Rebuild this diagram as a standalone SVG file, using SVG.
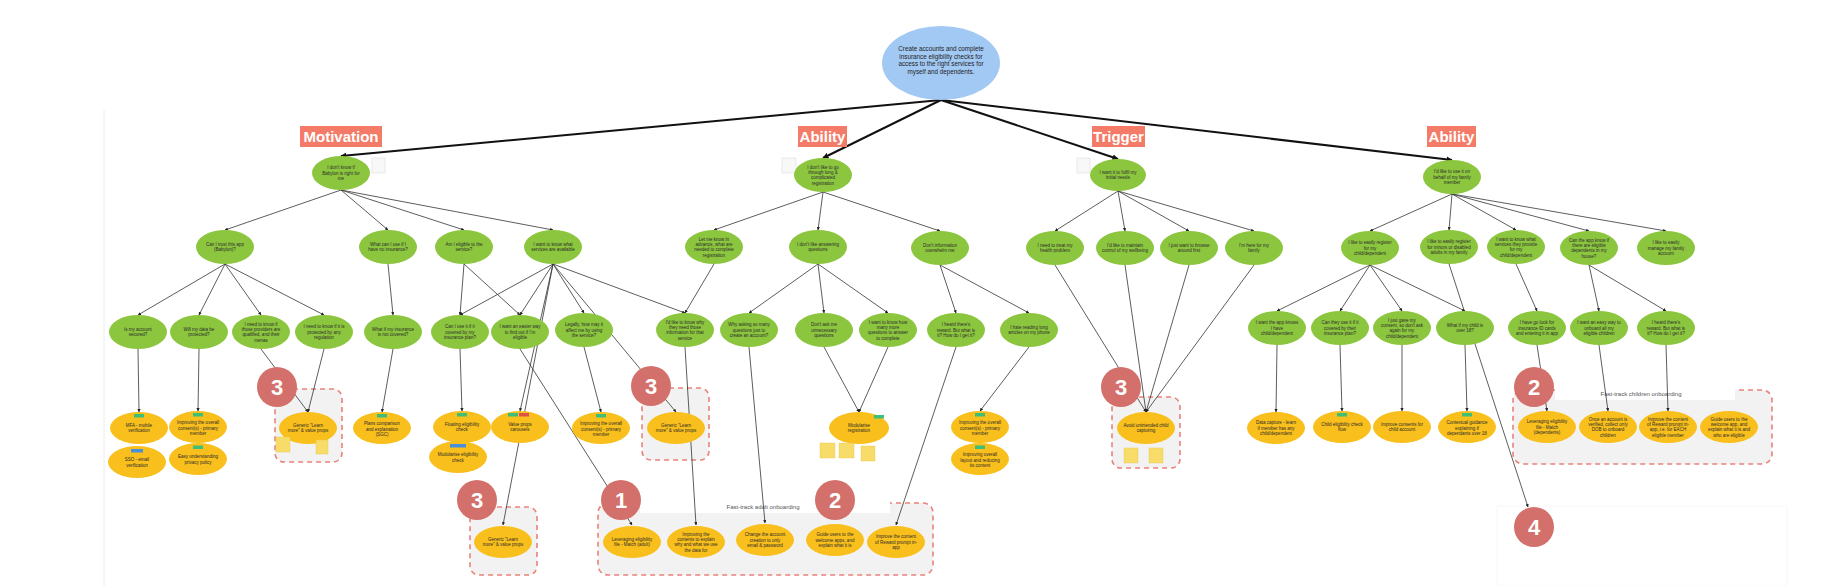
<svg xmlns="http://www.w3.org/2000/svg" width="1846" height="586" viewBox="0 0 1846 586">
<defs>
<style>
.g{fill:#8cc63f}
.y{fill:#f9bf1c}
.t{font-family:"Liberation Sans",Arial,sans-serif;font-size:4.5px;fill:#2b2b2b;text-anchor:middle}
.rt{font-family:"Liberation Sans",Arial,sans-serif;font-size:6.3px;fill:#222;text-anchor:middle}
.lab{font-family:"Liberation Sans",Arial,sans-serif;font-size:15px;font-weight:bold;fill:#fff;text-anchor:middle}
.labbg{fill:#f47b67}
.c{stroke:#333;stroke-width:0.8;fill:none;marker-end:url(#ah)}
.cr{stroke:#111;stroke-width:2;fill:none;marker-end:url(#ahr)}
.box{fill:#f2f2f2;stroke:#e8837a;stroke-width:1.6;stroke-dasharray:5 4}
.badge{fill:#d4706b}
.bt{font-family:"Liberation Sans",Arial,sans-serif;font-size:22px;font-weight:bold;fill:#fff;text-anchor:middle}
.tg{fill:#3dbf7a}
.tb{fill:#4a8fd9}
.tr{fill:#e0524c}
.st{fill:#f8dc6a;stroke:#e8c84a;stroke-width:0.4}
.note{fill:#f8f8f8;stroke:#d8d8d8;stroke-width:0.5}
.ft{font-family:"Liberation Sans",Arial,sans-serif;font-size:6px;fill:#555;text-anchor:middle}
</style>
<marker id="ah" viewBox="0 0 6 6" refX="5.5" refY="3" markerWidth="4" markerHeight="4" orient="auto"><path d="M0,0L6,3L0,6z" fill="#222"/></marker>
<marker id="ahr" viewBox="0 0 6 6" refX="5.5" refY="3" markerWidth="3" markerHeight="3" orient="auto"><path d="M0,0L6,3L0,6z" fill="#111"/></marker>
</defs>
<rect width="1846" height="586" fill="#fff"/>
<line x1="104" y1="110" x2="104" y2="586" stroke="#ececec" stroke-width="1"/>

<!-- group boxes -->
<g id="box3a"><rect class="box" x="275" y="389" width="67" height="73" rx="9"/></g>
<g id="box3b"><rect class="box" x="642" y="388" width="67" height="72" rx="9"/></g>
<g id="box3c"><rect class="box" x="1112" y="397" width="68" height="71" rx="9"/></g>
<g id="box3d"><rect class="box" x="470" y="507" width="67" height="68" rx="9"/></g>
<g id="boxAdult"><rect class="box" x="598" y="503" width="335" height="72" rx="10"/><rect x="640" y="502" width="250" height="11" fill="#fff"/><text class="ft" x="763" y="509">Fast-track adult onboarding</text></g>
<g id="boxChildren"><rect class="box" x="1513" y="390" width="259" height="74" rx="10"/><rect x="1555" y="389" width="180" height="11" fill="#fff"/><text class="ft" x="1641" y="396">Fast-track children onboarding</text></g>
<rect x="1497" y="506" width="290" height="80" fill="#fff" stroke="#f6f6f6" stroke-width="0.8"/>

<!-- connectors -->
<g id="connectors">
<path class="cr" d="M941,100L341,156"/>
<path class="cr" d="M941,100L823,158"/>
<path class="cr" d="M941,100L1118,159"/>
<path class="cr" d="M941,100L1452,160"/>
<path class="c" d="M341,190L225,230"/>
<path class="c" d="M341,190L388,230"/>
<path class="c" d="M341,190L464,230"/>
<path class="c" d="M341,190L553,230"/>
<path class="c" d="M823,192L714,230"/>
<path class="c" d="M823,192L818,230"/>
<path class="c" d="M823,192L940,231"/>
<path class="c" d="M1118,191L1055,231"/>
<path class="c" d="M1118,191L1125,231"/>
<path class="c" d="M1118,191L1189,231"/>
<path class="c" d="M1118,191L1254,231"/>
<path class="c" d="M1452,194L1370,231"/>
<path class="c" d="M1452,194L1449,230"/>
<path class="c" d="M1452,194L1516,230"/>
<path class="c" d="M1452,194L1589,231"/>
<path class="c" d="M1452,194L1666,231"/>
<path class="c" d="M225,264L138,315"/>
<path class="c" d="M225,264L199,315"/>
<path class="c" d="M225,264L261,315"/>
<path class="c" d="M225,264L324,315"/>
<path class="c" d="M388,264L393,315"/>
<path class="c" d="M464,264L460,315"/>
<path class="c" d="M464,264L520,315"/>
<path class="c" d="M553,264L460,315"/>
<path class="c" d="M553,264L520,315"/>
<path class="c" d="M553,264L584,313"/>
<path class="c" d="M553,264L685,313"/>
<path class="c" d="M553,264L520,411"/>
<path class="c" d="M553,264L676,412"/>
<path class="c" d="M553,264L503,525"/>
<path class="c" d="M714,264L685,313"/>
<path class="c" d="M818,264L749,313"/>
<path class="c" d="M818,264L824,313"/>
<path class="c" d="M818,264L888,313"/>
<path class="c" d="M940,265L956,313"/>
<path class="c" d="M940,265L1029,313"/>
<path class="c" d="M1055,265L1146,412"/>
<path class="c" d="M1125,265L1146,412"/>
<path class="c" d="M1189,265L1146,412"/>
<path class="c" d="M1254,265L1146,412"/>
<path class="c" d="M1370,265L1277,311"/>
<path class="c" d="M1370,265L1340,311"/>
<path class="c" d="M1370,265L1402,311"/>
<path class="c" d="M1370,265L1465,311"/>
<path class="c" d="M1449,264L1528,507"/>
<path class="c" d="M1516,264L1537,311"/>
<path class="c" d="M1589,265L1599,311"/>
<path class="c" d="M1589,265L1666,311"/>
<path class="c" d="M138,349L139,412"/>
<path class="c" d="M199,349L198,411"/>
<path class="c" d="M261,349L308,412"/>
<path class="c" d="M324,349L308,412"/>
<path class="c" d="M393,349L382,412"/>
<path class="c" d="M460,349L462,411"/>
<path class="c" d="M520,349L632,525"/>
<path class="c" d="M584,347L601,412"/>
<path class="c" d="M685,347L696,525"/>
<path class="c" d="M749,347L765,523"/>
<path class="c" d="M824,347L859,412"/>
<path class="c" d="M888,347L859,412"/>
<path class="c" d="M956,347L896,525"/>
<path class="c" d="M1029,347L980,411"/>
<path class="c" d="M1277,345L1276,412"/>
<path class="c" d="M1340,345L1342,411"/>
<path class="c" d="M1402,345L1402,411"/>
<path class="c" d="M1465,345L1467,411"/>
<path class="c" d="M1537,345L1547,411"/>
<path class="c" d="M1599,345L1608,411"/>
<path class="c" d="M1666,345L1668,411"/>
</g>

<!-- root -->
<g id="root"><ellipse cx="941" cy="63" rx="59" ry="37" fill="#a2c9f4"/>
<text class="rt"><tspan x="941" y="51">Create accounts and complete</tspan><tspan x="941" y="58.6">insurance eligibility checks for</tspan><tspan x="941" y="66.2">access to the right services for</tspan><tspan x="941" y="73.8">myself and dependents.</tspan></text></g>

<!-- labels -->
<g id="lab-motivation"><rect class="labbg" x="300" y="126" width="82" height="21"/><text class="lab" x="341" y="142">Motivation</text></g>
<g id="lab-ability1"><rect class="labbg" x="798" y="126" width="49" height="21"/><text class="lab" x="822.5" y="142">Ability</text></g>
<g id="lab-trigger"><rect class="labbg" x="1092" y="126" width="53" height="21"/><text class="lab" x="1118.5" y="142">Trigger</text></g>
<g id="lab-ability2"><rect class="labbg" x="1427" y="126" width="49" height="21"/><text class="lab" x="1451.5" y="142">Ability</text></g>

<!-- notes -->
<rect class="note" x="372" y="158" width="13" height="15"/>
<rect class="note" x="782" y="158" width="14" height="15"/>
<rect class="note" x="1077" y="158" width="13" height="15"/>

<!-- L1 -->
<g id="n-mot"><ellipse class="g" cx="341" cy="173" rx="29" ry="17"/><text class="t"><tspan x="341" y="169.2">I don't know if</tspan><tspan x="341" y="174.6">Babylon is right for</tspan><tspan x="341" y="180">me</tspan></text></g>
<g id="n-abi1"><ellipse class="g" cx="823" cy="175" rx="29" ry="17"/><text class="t"><tspan x="823" y="168.5">I don't like to go</tspan><tspan x="823" y="173.9">through long &amp;</tspan><tspan x="823" y="179.3">complicated</tspan><tspan x="823" y="184.7">registration</tspan></text></g>
<g id="n-trig"><ellipse class="g" cx="1118" cy="175" rx="28" ry="16"/><text class="t"><tspan x="1118" y="173.9">I want it to fulfil my</tspan><tspan x="1118" y="179.3">initial needs</tspan></text></g>
<g id="n-abi2"><ellipse class="g" cx="1452" cy="177" rx="29" ry="17"/><text class="t"><tspan x="1452" y="173.2">I'd like to use it on</tspan><tspan x="1452" y="178.6">behalf of my family</tspan><tspan x="1452" y="184">member</tspan></text></g>

<!-- L2 -->
<g id="n-trust"><ellipse class="g" cx="225" cy="247" rx="29" ry="17"/><text class="t"><tspan x="225" y="245.9">Can I trust this app</tspan><tspan x="225" y="251.3">(Babylon)?</tspan></text></g>
<g id="n-noins"><ellipse class="g" cx="388" cy="247" rx="29" ry="17"/><text class="t"><tspan x="388" y="245.9">What can I use if I</tspan><tspan x="388" y="251.3">have no insurance?</tspan></text></g>
<g id="n-elig"><ellipse class="g" cx="464" cy="247" rx="29" ry="17"/><text class="t"><tspan x="464" y="245.9">Am I eligible to the</tspan><tspan x="464" y="251.3">service?</tspan></text></g>
<g id="n-services"><ellipse class="g" cx="553" cy="247" rx="29" ry="17"/><text class="t"><tspan x="553" y="245.9">I want to know what</tspan><tspan x="553" y="251.3">services are available</tspan></text></g>
<g id="n-advance"><ellipse class="g" cx="714" cy="247" rx="29" ry="17"/><text class="t"><tspan x="714" y="240.5">Let me know in</tspan><tspan x="714" y="245.9">advance, what are</tspan><tspan x="714" y="251.3">needed to complete</tspan><tspan x="714" y="256.7">registration</tspan></text></g>
<g id="n-answer"><ellipse class="g" cx="818" cy="247" rx="29" ry="17"/><text class="t"><tspan x="818" y="245.9">I don't like answering</tspan><tspan x="818" y="251.3">questions</tspan></text></g>
<g id="n-overwhelm"><ellipse class="g" cx="940" cy="248" rx="29" ry="17"/><text class="t"><tspan x="940" y="246.9">Don't information</tspan><tspan x="940" y="252.3">overwhelm me</tspan></text></g>
<g id="n-treat"><ellipse class="g" cx="1055" cy="248" rx="29" ry="17"/><text class="t"><tspan x="1055" y="246.9">I need to treat my</tspan><tspan x="1055" y="252.3">health problem</tspan></text></g>
<g id="n-wellbeing"><ellipse class="g" cx="1125" cy="248" rx="29" ry="17"/><text class="t"><tspan x="1125" y="246.9">I'd like to maintain</tspan><tspan x="1125" y="252.3">control of my wellbeing</tspan></text></g>
<g id="n-browse"><ellipse class="g" cx="1189" cy="248" rx="29" ry="17"/><text class="t"><tspan x="1189" y="246.9">I just want to browse</tspan><tspan x="1189" y="252.3">around first</tspan></text></g>
<g id="n-family"><ellipse class="g" cx="1254" cy="248" rx="29" ry="17"/><text class="t"><tspan x="1254" y="246.9">I'm here for my</tspan><tspan x="1254" y="252.3">family</tspan></text></g>
<g id="n-regchild"><ellipse class="g" cx="1370" cy="248" rx="29" ry="17"/><text class="t"><tspan x="1370" y="244.2">I like to easily register</tspan><tspan x="1370" y="249.6">for my</tspan><tspan x="1370" y="255">child/dependent</tspan></text></g>
<g id="n-regminor"><ellipse class="g" cx="1449" cy="247" rx="29" ry="17"/><text class="t"><tspan x="1449" y="243.2">I like to easily register</tspan><tspan x="1449" y="248.6">for minors or disabled</tspan><tspan x="1449" y="254">adults in my family</tspan></text></g>
<g id="n-provide"><ellipse class="g" cx="1516" cy="247" rx="29" ry="17"/><text class="t"><tspan x="1516" y="240.5">I want to know what</tspan><tspan x="1516" y="245.9">services they provide</tspan><tspan x="1516" y="251.3">for my</tspan><tspan x="1516" y="256.7">child/dependent</tspan></text></g>
<g id="n-appknow"><ellipse class="g" cx="1589" cy="248" rx="29" ry="17"/><text class="t"><tspan x="1589" y="241.5">Can the app know if</tspan><tspan x="1589" y="246.9">there are eligible</tspan><tspan x="1589" y="252.3">dependents in my</tspan><tspan x="1589" y="257.7">house?</tspan></text></g>
<g id="n-manage"><ellipse class="g" cx="1666" cy="248" rx="29" ry="17"/><text class="t"><tspan x="1666" y="244.2">I like to easily</tspan><tspan x="1666" y="249.6">manage my family</tspan><tspan x="1666" y="255">account</tspan></text></g>

<!-- L3 -->
<g id="n-secured"><ellipse class="g" cx="138" cy="332" rx="29" ry="17"/><text class="t"><tspan x="138" y="330.9">Is my account</tspan><tspan x="138" y="336.3">secured?</tspan></text></g>
<g id="n-protected"><ellipse class="g" cx="199" cy="332" rx="29" ry="17"/><text class="t"><tspan x="199" y="330.9">Will my data be</tspan><tspan x="199" y="336.3">protected?</tspan></text></g>
<g id="n-providers"><ellipse class="g" cx="261" cy="332" rx="29" ry="17"/><text class="t"><tspan x="261" y="325.5">I need to know if</tspan><tspan x="261" y="330.9">those providers are</tspan><tspan x="261" y="336.3">qualified, and their</tspan><tspan x="261" y="341.7">menas</tspan></text></g>
<g id="n-regulation"><ellipse class="g" cx="324" cy="332" rx="29" ry="17"/><text class="t"><tspan x="324" y="328.2">I need to know if it is</tspan><tspan x="324" y="333.6">protected by any</tspan><tspan x="324" y="339">regulation</tspan></text></g>
<g id="n-notcovered"><ellipse class="g" cx="393" cy="332" rx="29" ry="17"/><text class="t"><tspan x="393" y="330.9">What if my insurance</tspan><tspan x="393" y="336.3">is not covered?</tspan></text></g>
<g id="n-covered"><ellipse class="g" cx="460" cy="332" rx="29" ry="17"/><text class="t"><tspan x="460" y="328.2">Can I use it if it</tspan><tspan x="460" y="333.6">covered by my</tspan><tspan x="460" y="339">insurance plan?</tspan></text></g>
<g id="n-easier"><ellipse class="g" cx="520" cy="332" rx="29" ry="17"/><text class="t"><tspan x="520" y="328.2">I want an easier way</tspan><tspan x="520" y="333.6">to find out if I'm</tspan><tspan x="520" y="339">eligible</tspan></text></g>
<g id="n-legally"><ellipse class="g" cx="584" cy="330" rx="29" ry="17"/><text class="t"><tspan x="584" y="326.2">Legally, how may it</tspan><tspan x="584" y="331.6">affect me by using</tspan><tspan x="584" y="337">the service?</tspan></text></g>
<g id="n-why"><ellipse class="g" cx="685" cy="330" rx="29" ry="17"/><text class="t"><tspan x="685" y="323.5">I'd like to know why</tspan><tspan x="685" y="328.9">they need those</tspan><tspan x="685" y="334.3">information for that</tspan><tspan x="685" y="339.7">service</tspan></text></g>
<g id="n-somany"><ellipse class="g" cx="749" cy="330" rx="29" ry="17"/><text class="t"><tspan x="749" y="326.2">Why asking so many</tspan><tspan x="749" y="331.6">questions just to</tspan><tspan x="749" y="337">create an account?</tspan></text></g>
<g id="n-unnecessary"><ellipse class="g" cx="824" cy="330" rx="29" ry="17"/><text class="t"><tspan x="824" y="326.2">Don't ask me</tspan><tspan x="824" y="331.6">unnecessary</tspan><tspan x="824" y="337">questions</tspan></text></g>
<g id="n-howmany"><ellipse class="g" cx="888" cy="330" rx="29" ry="17"/><text class="t"><tspan x="888" y="323.5">I want to know how</tspan><tspan x="888" y="328.9">many more</tspan><tspan x="888" y="334.3">questions to answer</tspan><tspan x="888" y="339.7">to complete</tspan></text></g>
<g id="n-reward1"><ellipse class="g" cx="956" cy="330" rx="29" ry="17"/><text class="t"><tspan x="956" y="326.2">I heard there's</tspan><tspan x="956" y="331.6">reward. But what is</tspan><tspan x="956" y="337">it? How do I get it?</tspan></text></g>
<g id="n-reading"><ellipse class="g" cx="1029" cy="330" rx="29" ry="17"/><text class="t"><tspan x="1029" y="328.9">I hate reading long</tspan><tspan x="1029" y="334.3">articles on my phone</tspan></text></g>
<g id="n-appknows"><ellipse class="g" cx="1277" cy="328" rx="29" ry="17"/><text class="t"><tspan x="1277" y="324.2">I want the app knows</tspan><tspan x="1277" y="329.6">I have</tspan><tspan x="1277" y="335">child/dependent</tspan></text></g>
<g id="n-theirplan"><ellipse class="g" cx="1340" cy="328" rx="29" ry="17"/><text class="t"><tspan x="1340" y="324.2">Can they use it if it</tspan><tspan x="1340" y="329.6">covered by their</tspan><tspan x="1340" y="335">insurance plan?</tspan></text></g>
<g id="n-consent"><ellipse class="g" cx="1402" cy="328" rx="29" ry="17"/><text class="t"><tspan x="1402" y="321.5">I just gave my</tspan><tspan x="1402" y="326.9">consent, so don't ask</tspan><tspan x="1402" y="332.3">again for my</tspan><tspan x="1402" y="337.7">child/dependent</tspan></text></g>
<g id="n-over18"><ellipse class="g" cx="1465" cy="328" rx="29" ry="17"/><text class="t"><tspan x="1465" y="326.9">What if my child is</tspan><tspan x="1465" y="332.3">over 18?</tspan></text></g>
<g id="n-idcards"><ellipse class="g" cx="1537" cy="328" rx="29" ry="17"/><text class="t"><tspan x="1537" y="324.2">I have go look for</tspan><tspan x="1537" y="329.6">insurance ID cards</tspan><tspan x="1537" y="335">and entering it in app</tspan></text></g>
<g id="n-onboardall"><ellipse class="g" cx="1599" cy="328" rx="29" ry="17"/><text class="t"><tspan x="1599" y="324.2">I want an easy way to</tspan><tspan x="1599" y="329.6">onboard all my</tspan><tspan x="1599" y="335">eligible children</tspan></text></g>
<g id="n-reward2"><ellipse class="g" cx="1666" cy="328" rx="29" ry="17"/><text class="t"><tspan x="1666" y="324.2">I heard there's</tspan><tspan x="1666" y="329.6">reward. But what is</tspan><tspan x="1666" y="335">it? How do I get it?</tspan></text></g>

<!-- L4 -->
<g id="s-mfa"><ellipse class="y" cx="139" cy="428" rx="29" ry="16"/><rect class="tg" x="134" y="414" width="10" height="3.5"/><text class="t"><tspan x="139" y="426.9">MFA - mobile</tspan><tspan x="139" y="432.3">verification</tspan></text></g>
<g id="s-sso"><ellipse class="y" cx="137" cy="462" rx="29" ry="16"/><rect class="tb" x="131" y="449" width="12" height="3.5"/><text class="t"><tspan x="137" y="461.4">SSO - email</tspan><tspan x="137" y="466.8">verification</tspan></text></g>
<g id="s-consent1"><ellipse class="y" cx="198" cy="427" rx="29" ry="16"/><rect class="tg" x="193" y="413" width="10" height="3.5"/><text class="t"><tspan x="198" y="424.2">Improving the overall</tspan><tspan x="198" y="429.6">consent(s) - primary</tspan><tspan x="198" y="435">member</tspan></text></g>
<g id="s-privacy"><ellipse class="y" cx="198" cy="459" rx="29" ry="16"/><rect class="tg" x="193" y="445.5" width="10" height="3.5"/><text class="t"><tspan x="198" y="458.4">Easy understanding</tspan><tspan x="198" y="463.8">privacy policy</tspan></text></g>
<g id="s-learn1"><ellipse class="y" cx="308" cy="428" rx="29" ry="16"/><text class="t"><tspan x="308" y="426.9">Generic "Learn</tspan><tspan x="308" y="432.3">more" &amp; value props</tspan></text><rect class="st" x="276" y="437" width="14" height="15"/><rect class="st" x="316" y="440" width="12" height="14"/></g>
<g id="s-plans"><ellipse class="y" cx="382" cy="428" rx="29" ry="16"/><rect class="tg" x="377" y="414" width="10" height="3.5"/><text class="t"><tspan x="382" y="425.2">Plans comparison</tspan><tspan x="382" y="430.6">and explanation</tspan><tspan x="382" y="436">(SGC)</tspan></text></g>
<g id="s-floating"><ellipse class="y" cx="462" cy="427" rx="29" ry="16"/><rect class="tg" x="457" y="413" width="10" height="3.5"/><text class="t"><tspan x="462" y="425.9">Floating eligibility</tspan><tspan x="462" y="431.3">check</tspan></text></g>
<g id="s-modelig"><ellipse class="y" cx="458" cy="457" rx="29" ry="16"/><rect class="tb" x="450" y="444" width="16" height="3.5"/><text class="t"><tspan x="458" y="456.4">Modularise eligibility</tspan><tspan x="458" y="461.8">check</tspan></text></g>
<g id="s-carousel"><ellipse class="y" cx="520" cy="427" rx="29" ry="16"/><rect class="tg" x="508" y="413" width="10" height="3.5"/><rect class="tr" x="519" y="413" width="10" height="3.5"/><text class="t"><tspan x="520" y="425.9">Value props</tspan><tspan x="520" y="431.3">carousels</tspan></text></g>
<g id="s-consent2"><ellipse class="y" cx="601" cy="428" rx="29" ry="16"/><rect class="tg" x="596" y="414" width="10" height="3.5"/><text class="t"><tspan x="601" y="425.2">Improving the overall</tspan><tspan x="601" y="430.6">consent(s) - primary</tspan><tspan x="601" y="436">member</tspan></text></g>
<g id="s-learn2"><ellipse class="y" cx="676" cy="428" rx="29" ry="16"/><text class="t"><tspan x="676" y="426.9">Generic "Learn</tspan><tspan x="676" y="432.3">more" &amp; value props</tspan></text></g>
<g id="s-modreg"><ellipse class="y" cx="859" cy="428" rx="30" ry="16"/><rect class="tg" x="874" y="415" width="10" height="3.5"/><text class="t"><tspan x="859" y="426.9">Modularise</tspan><tspan x="859" y="432.3">registration</tspan></text><rect class="st" x="820" y="443" width="15" height="15"/><rect class="st" x="839" y="443" width="15" height="15"/><rect class="st" x="861" y="446" width="14" height="15"/></g>
<g id="s-consent3"><ellipse class="y" cx="980" cy="427" rx="29" ry="16"/><rect class="tg" x="975" y="413" width="10" height="3.5"/><text class="t"><tspan x="980" y="424.2">Improving the overall</tspan><tspan x="980" y="429.6">consent(s) - primary</tspan><tspan x="980" y="435">member</tspan></text></g>
<g id="s-layout"><ellipse class="y" cx="980" cy="459" rx="29" ry="16"/><rect class="tg" x="975" y="445.5" width="10" height="3.5"/><text class="t"><tspan x="980" y="456.2">Improving overall</tspan><tspan x="980" y="461.6">layout and reducing</tspan><tspan x="980" y="467">its content</tspan></text></g>
<g id="s-avoid"><ellipse class="y" cx="1146" cy="428" rx="29" ry="16"/><text class="t"><tspan x="1146" y="426.9">Avoid unintended child</tspan><tspan x="1146" y="432.3">capturing</tspan></text><rect class="st" x="1124" y="448" width="14" height="15"/><rect class="st" x="1149" y="448" width="14" height="15"/></g>
<g id="s-datacap"><ellipse class="y" cx="1276" cy="428" rx="29" ry="16"/><text class="t"><tspan x="1276" y="424.2">Data capture - learn</tspan><tspan x="1276" y="429.6">if member has any</tspan><tspan x="1276" y="435">child/dependent</tspan></text></g>
<g id="s-childelig"><ellipse class="y" cx="1342" cy="427" rx="29" ry="16"/><rect class="tg" x="1337" y="413" width="10" height="3.5"/><text class="t"><tspan x="1342" y="425.9">Child eligibility check</tspan><tspan x="1342" y="431.3">flow</tspan></text></g>
<g id="s-childcons"><ellipse class="y" cx="1402" cy="427" rx="29" ry="16"/><text class="t"><tspan x="1402" y="425.9">Improve consents for</tspan><tspan x="1402" y="431.3">child account</tspan></text></g>
<g id="s-context"><ellipse class="y" cx="1467" cy="427" rx="29" ry="16"/><rect class="tg" x="1462" y="413" width="10" height="3.5"/><text class="t"><tspan x="1467" y="424.2">Contextual guidance</tspan><tspan x="1467" y="429.6">explaining if</tspan><tspan x="1467" y="435">dependants over 18</tspan></text></g>
<g id="s-levdep"><ellipse class="y" cx="1547" cy="427" rx="29" ry="16"/><text class="t"><tspan x="1547" y="423.2">Leveraging eligibility</tspan><tspan x="1547" y="428.6">file - Match</tspan><tspan x="1547" y="434">(dependents)</tspan></text></g>
<g id="s-dob"><ellipse class="y" cx="1608" cy="427" rx="29" ry="16"/><text class="t"><tspan x="1608" y="420.5">Once an account is</tspan><tspan x="1608" y="425.9">verified, collect only</tspan><tspan x="1608" y="431.3">DOB to onboard</tspan><tspan x="1608" y="436.7">children</tspan></text></g>
<g id="s-rewardc"><ellipse class="y" cx="1668" cy="427" rx="29" ry="16"/><text class="t"><tspan x="1668" y="420.5">Improve the content</tspan><tspan x="1668" y="425.9">of Reward prompt in-</tspan><tspan x="1668" y="431.3">app, i.e. for EACH</tspan><tspan x="1668" y="436.7">eligible member</tspan></text></g>
<g id="s-guidec"><ellipse class="y" cx="1729" cy="427" rx="29" ry="16"/><text class="t"><tspan x="1729" y="420.5">Guide users to the</tspan><tspan x="1729" y="425.9">welcome app, and</tspan><tspan x="1729" y="431.3">explain what it is and</tspan><tspan x="1729" y="436.7">who are eligible</tspan></text></g>

<!-- bottom row -->
<g id="s-learn3"><ellipse class="y" cx="503" cy="542" rx="29" ry="16"/><text class="t"><tspan x="503" y="540.9">Generic "Learn</tspan><tspan x="503" y="546.3">more" &amp; value props</tspan></text></g>
<g id="s-levadult"><ellipse class="y" cx="632" cy="542" rx="29" ry="16"/><text class="t"><tspan x="632" y="540.9">Leveraging eligibility</tspan><tspan x="632" y="546.3">file - Match (adult)</tspan></text></g>
<g id="s-explain"><ellipse class="y" cx="696" cy="542" rx="29" ry="16"/><text class="t"><tspan x="696" y="535.5">Improving the</tspan><tspan x="696" y="540.9">contents to explain</tspan><tspan x="696" y="546.3">why and what we use</tspan><tspan x="696" y="551.7">the data for</tspan></text></g>
<g id="s-email"><ellipse class="y" cx="765" cy="540" rx="29" ry="16"/><text class="t"><tspan x="765" y="536.2">Change the account</tspan><tspan x="765" y="541.6">creation to only</tspan><tspan x="765" y="547">email &amp; password</tspan></text></g>
<g id="s-guidea"><ellipse class="y" cx="835" cy="540" rx="29" ry="16"/><text class="t"><tspan x="835" y="536.2">Guide users to the</tspan><tspan x="835" y="541.6">welcome apps, and</tspan><tspan x="835" y="547">explain what it is</tspan></text></g>
<g id="s-rewarda"><ellipse class="y" cx="896" cy="542" rx="29" ry="16"/><text class="t"><tspan x="896" y="538.2">Improve the content</tspan><tspan x="896" y="543.6">of Reward prompt in-</tspan><tspan x="896" y="549">app</tspan></text></g>

<!-- badges -->
<g id="badge3a"><circle class="badge" cx="277" cy="387" r="20"/><text class="bt" x="277" y="395">3</text></g>
<g id="badge3b"><circle class="badge" cx="651" cy="386" r="20"/><text class="bt" x="651" y="394">3</text></g>
<g id="badge3c"><circle class="badge" cx="1121" cy="387" r="20"/><text class="bt" x="1121" y="395">3</text></g>
<g id="badge3d"><circle class="badge" cx="477" cy="500" r="20"/><text class="bt" x="477" y="508">3</text></g>
<g id="badge1"><circle class="badge" cx="621" cy="500" r="20"/><text class="bt" x="621" y="508">1</text></g>
<g id="badge2a"><circle class="badge" cx="835" cy="500" r="20"/><text class="bt" x="835" y="508">2</text></g>
<g id="badge2b"><circle class="badge" cx="1534" cy="387" r="20"/><text class="bt" x="1534" y="395">2</text></g>
<g id="badge4"><circle class="badge" cx="1534" cy="527" r="20"/><text class="bt" x="1534" y="535">4</text></g>
</svg>
